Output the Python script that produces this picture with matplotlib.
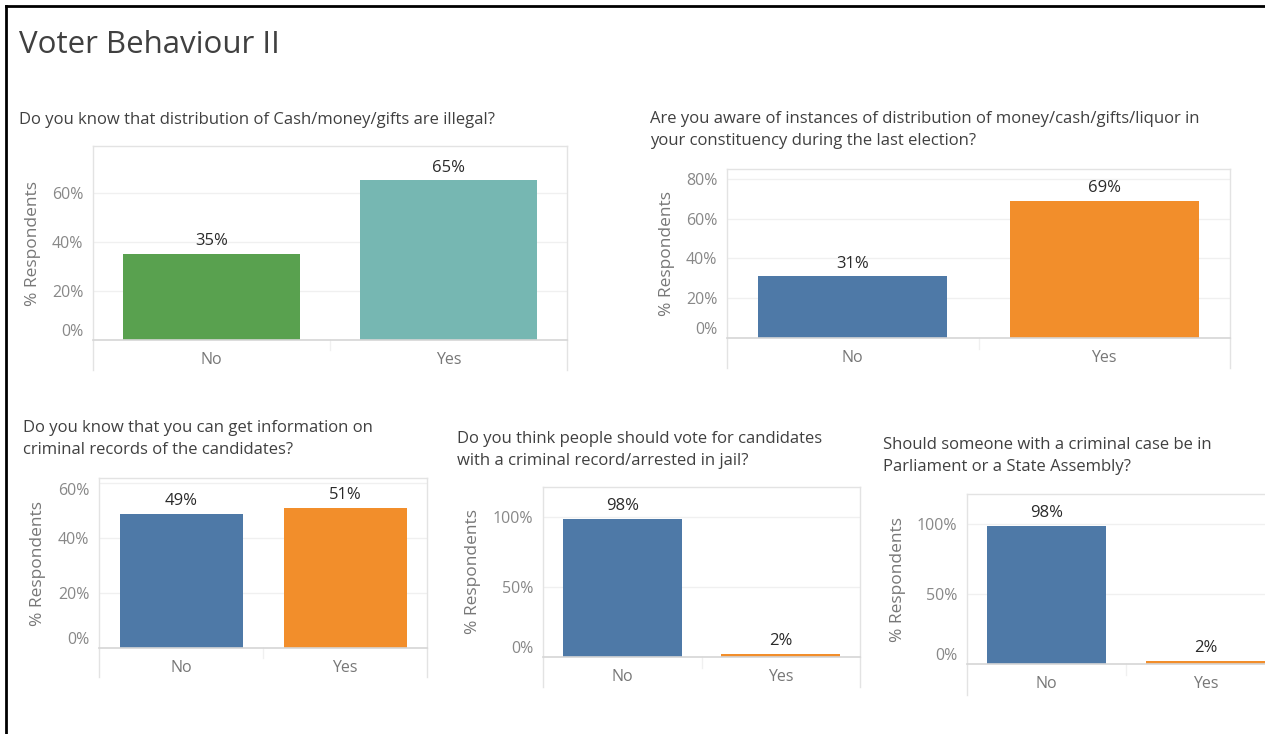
import matplotlib
matplotlib.use("Agg")
import matplotlib.pyplot as plt
from matplotlib.lines import Line2D

plt.rcParams['font.family'] = ['Open Sans', 'DejaVu Sans']

# ---------------- data ----------------
categories = ["No", "Yes"]

q1_title = "Do you know that distribution of Cash/money/gifts are illegal?"
q1_values = [35, 65]
q1_ticks = [0, 20, 40, 60]

q2_title = ("Are you aware of instances of distribution of money/cash/gifts/liquor in\n"
            "your constituency during the last election?")
q2_values = [31, 69]
q2_ticks = [0, 20, 40, 60, 80]

q3_title = "Do you know that you can get information on\ncriminal records of the candidates?"
q3_values = [49, 51]
q3_ticks = [0, 20, 40, 60]

q4_title = "Do you think people should vote for candidates\nwith a criminal record/arrested in jail?"
q4_values = [98, 2]
q4_ticks = [0, 50, 100]

q5_title = "Should someone with a criminal case be in\nParliament or a State Assembly?"
q5_values = [98, 2]
q5_ticks = [0, 50, 100]

main_title = "Voter Behaviour II"
y_label = "% Respondents"

# ---------------- style ----------------
GREEN = "#59A14F"
TEAL = "#76B7B2"
BLUE = "#4E79A7"
ORANGE = "#F28E2B"
FRAME = "#e3e3e3"
GRID = "#f0f0f0"
BASE = "#d6d6d6"
TXT = "#2a2a2a"
TICK = "#888888"

W, H = 1265, 734
fig = plt.figure(figsize=(W / 100, H / 100), dpi=100)


def px_rect(left, right, top, bottom):
    return [left / W, (H - bottom) / H, (right - left) / W, (bottom - top) / H]


panels = [
    (q1_title, q1_values, q1_ticks, [GREEN, TEAL], (93, 567, 146, 340, 370), 79, (19, 120), 60),
    (q2_title, q2_values, q2_ticks, [BLUE, ORANGE], (727, 1230, 169, 338, 368), 85, (650, 130), 60),
    (q3_title, q3_values, q3_ticks, [BLUE, ORANGE], (99, 427, 478, 648, 677), 62, (23, 439), 61),
    (q4_title, q4_values, q4_ticks, [BLUE, ORANGE], (543, 860, 487, 657, 687), 121, (457, 450), 70),
    (q5_title, q5_values, q5_ticks, [BLUE, ORANGE], (967, 1285, 494, 664, 695), 121, (883, 456), 69),
]

for title, vals, ticks, cols, (l, r, t, b, hb), ymax, (tx, ty), ylo in panels:
    ax = fig.add_axes(px_rect(l, r, t, b))
    x = list(range(len(categories)))
    ax.bar(x, vals, width=0.75, color=cols, zorder=3)
    ax.set_xlim(-0.5, 1.5)
    ax.set_ylim(0, ymax)
    ax.set_yticks(ticks)
    ax.set_yticklabels([f"{v}%" for v in ticks])
    ax.set_xticks(x)
    ax.set_xticklabels(categories)
    ax.tick_params(axis='y', length=0, pad=7, labelsize=11.5, labelcolor=TICK)
    ax.tick_params(axis='x', length=0, pad=8.5, labelsize=11.5, labelcolor="#777777")
    ax.yaxis.grid(True, color=GRID, linewidth=1, zorder=0)
    ax.set_axisbelow(True)
    for s in ['left', 'right', 'top']:
        ax.spines[s].set_color(FRAME)
        ax.spines[s].set_linewidth(1)
    ax.spines['bottom'].set_color(BASE)
    ax.spines['bottom'].set_linewidth(1.2)
    ax.spines['bottom'].set_zorder(4)
    for lab, v in zip(ax.get_yticklabels(), ticks):
        if v == 0:
            lab.set_verticalalignment('bottom')
        elif (ymax - v) / ymax < 0.05:
            lab.set_verticalalignment('top')
    ax.set_ylabel(y_label, fontsize=12.5, color="#777777", va='center')
    ax.yaxis.set_label_coords(-ylo / (r - l), 0.5)
    hfrac = (hb - b) / (b - t)
    for xx in (0, 1):
        ax.add_line(Line2D([xx, xx], [0, -hfrac], transform=ax.transAxes,
                           color=FRAME, linewidth=1, clip_on=False))
    ax.add_line(Line2D([0.5, 0.5], [0, -hfrac * 0.35], transform=ax.transAxes,
                       color="#f0f0f0", linewidth=1, clip_on=False))
    for bx, v in zip(x, vals):
        ax.annotate(f"{v}%", (bx, v), xytext=(0, 3.5), textcoords='offset points',
                    ha='center', va='bottom', fontsize=12, color=TXT)
    fig.text(tx / W, 1 - ty / H, title, fontsize=12, color="#404040",
             ha='left', va='center', linespacing=1.5)

fig.text(19 / W, 1 - 45 / H, main_title, fontsize=22.5, color="#404040",
         ha='left', va='center')

# black outer border (top and left)
fig.add_artist(Line2D([6 / W, 1], [1 - 6 / H, 1 - 6 / H], transform=fig.transFigure,
                      color="black", linewidth=2))
fig.add_artist(Line2D([6 / W, 6 / W], [0, 1 - 6 / H], transform=fig.transFigure,
                      color="black", linewidth=2))

fig.savefig("out.png", dpi=100, facecolor="white")
